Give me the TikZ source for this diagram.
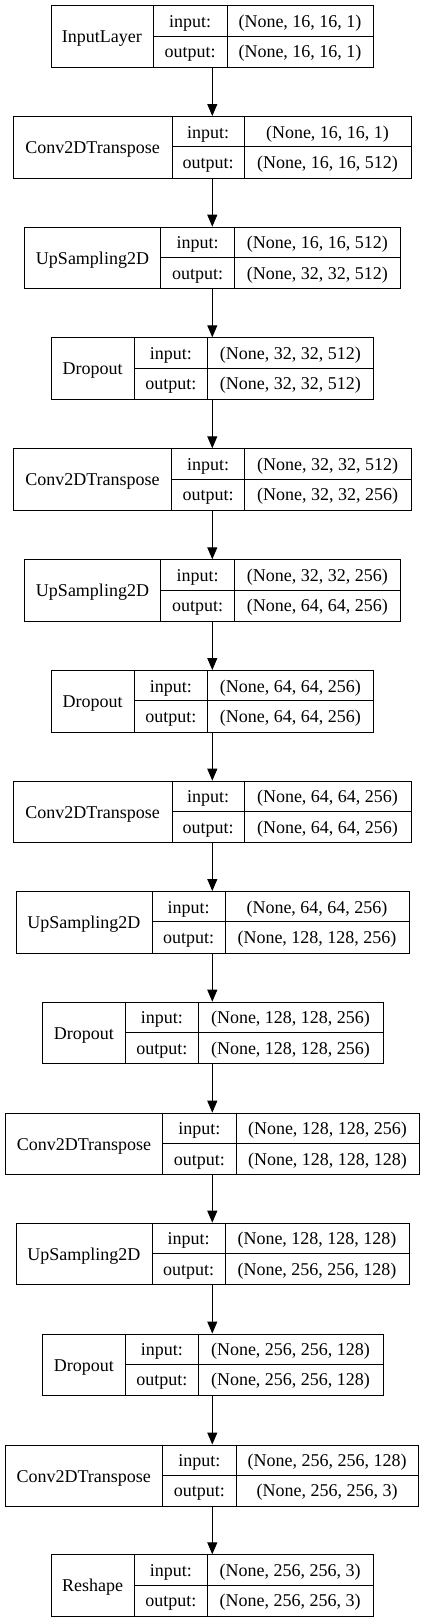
\documentclass[tikz,border=0pt]{standalone}
\usepackage{fontspec}
\setmainfont{Liberation Serif}
\usetikzlibrary{arrows.meta}
\tikzset{
  box/.style={draw=black, line width=1pt, inner sep=0pt, anchor=north west, minimum height=61.7pt},
  divline/.style={draw=black, line width=1pt},
  txt/.style={inner sep=0pt, anchor=base, font=\fontsize{18}{20}\selectfont},
  arr/.style={draw=black, line width=1pt, -{Triangle[length=12pt,width=10pt]}}
}
\newcommand\mylayer[9]{%
  \node[box, minimum width={(#6-#3)*1pt}] (#1) at (#3,#2) {};
  \draw[divline] ({#4},{#2}) -- ({#4},{#2+61.7});
  \draw[divline] ({#5},{#2}) -- ({#5},{#2+61.7});
  \draw[divline] ({#4},{#2+30.85}) -- ({#6},{#2+30.85});
  \node[txt] (#1-l) at ({(#3+#4)/2},{#2+37.5}) {#7};
  \node[txt] (#1-i) at ({(#4+#5)/2},{#2+22}) {input:};
  \node[txt] (#1-o) at ({(#4+#5)/2},{#2+52.3}) {output:};
  \node[txt] (#1-is) at ({(#5+#6)/2},{#2+22}) {#8};
  \node[txt] (#1-os) at ({(#5+#6)/2},{#2+52.3}) {#9};
}
\begin{document}
\begin{tikzpicture}[x=1pt,y=-1pt]
\useasboundingbox[fill=white] (0,0) rectangle (425,1623);
\coordinate (ax) at (212.3,0);
\mylayer{L1}{5.3}{50.7}{153}{227}{373}{InputLayer}{(None, 16, 16, 1)}{(None, 16, 16, 1)}
\mylayer{L2}{116}{13.3}{172}{244}{411}{Conv2DTranspose}{(None, 16, 16, 1)}{(None, 16, 16, 512)}
\mylayer{L3}{226.7}{24.3}{160.7}{234.3}{400.3}{UpSampling2D}{(None, 16, 16, 512)}{(None, 32, 32, 512)}
\mylayer{L4}{337.3}{51}{134.3}{207.3}{373.3}{Dropout}{(None, 32, 32, 512)}{(None, 32, 32, 512)}
\mylayer{L5}{448.3}{13.3}{171.7}{244.3}{411}{Conv2DTranspose}{(None, 32, 32, 512)}{(None, 32, 32, 256)}
\mylayer{L6}{559.3}{24.3}{160.7}{234.3}{400.3}{UpSampling2D}{(None, 32, 32, 256)}{(None, 64, 64, 256)}
\mylayer{L7}{670}{51}{134.3}{207.3}{373.3}{Dropout}{(None, 64, 64, 256)}{(None, 64, 64, 256)}
\mylayer{L8}{780.7}{13.3}{172}{244}{411}{Conv2DTranspose}{(None, 64, 64, 256)}{(None, 64, 64, 256)}
\mylayer{L9}{891}{15.7}{152}{225.3}{408.7}{UpSampling2D}{(None, 64, 64, 256)}{(None, 128, 128, 256)}
\mylayer{L10}{1001.7}{42.3}{125.3}{198.3}{382.7}{Dropout}{(None, 128, 128, 256)}{(None, 128, 128, 256)}
\mylayer{L11}{1112.7}{5.3}{162.7}{236}{419}{Conv2DTranspose}{(None, 128, 128, 256)}{(None, 128, 128, 128)}
\mylayer{L12}{1222.7}{15.7}{152}{225.3}{408.7}{UpSampling2D}{(None, 128, 128, 128)}{(None, 256, 256, 128)}
\mylayer{L13}{1333.5}{42.3}{125.3}{198.3}{382.7}{Dropout}{(None, 256, 256, 128)}{(None, 256, 256, 128)}
\mylayer{L14}{1444.5}{4.7}{162.7}{236}{418.3}{Conv2DTranspose}{(None, 256, 256, 128)}{(None, 256, 256, 3)}
\mylayer{L15}{1554.3}{50.7}{134.3}{207.3}{373}{Reshape}{(None, 256, 256, 3)}{(None, 256, 256, 3)}
\foreach \a/\b in {L1/L2,L2/L3,L3/L4,L4/L5,L5/L6,L6/L7,L7/L8,L8/L9,L9/L10,L10/L11,L11/L12,L12/L13,L13/L14,L14/L15}
  \draw[arr] (\a.south -| ax) -- (\b.north -| ax);
\end{tikzpicture}
\end{document}
